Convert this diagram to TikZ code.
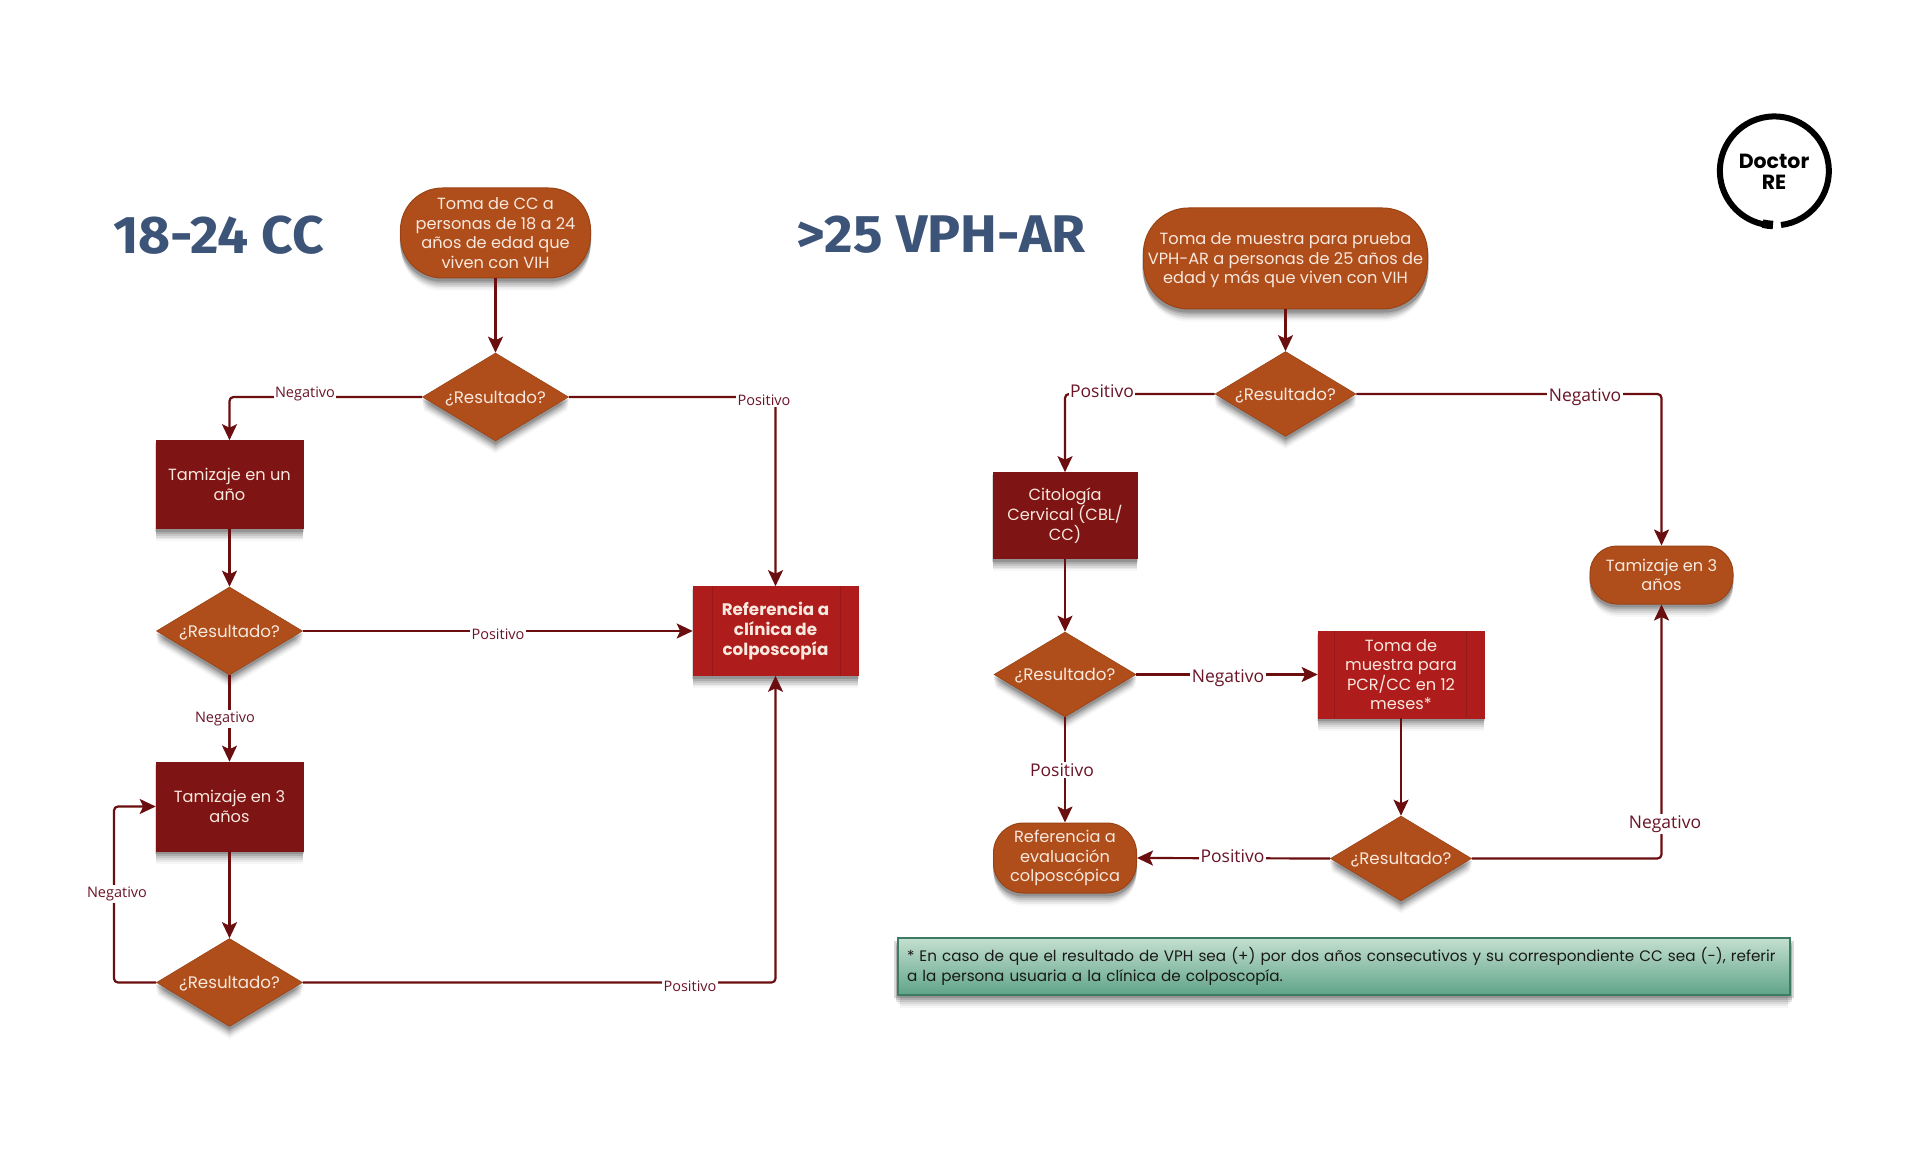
\documentclass[tikz,border=0pt]{standalone}
\usepackage{fontspec}
\setmainfont{Poppins}
\newfontfamily\titlefont[FakeStretch=1.04]{Fira Sans}
\newfontfamily\labelfont{Open Sans}
\usetikzlibrary{shapes.geometric,arrows.meta,shadows}
\definecolor{orng}{HTML}{AF4E1B}
\definecolor{orngedge}{HTML}{9A4316}
\definecolor{dkred}{HTML}{7E1414}
\definecolor{brred}{HTML}{AE1C1C}
\definecolor{procedge}{HTML}{961818}
\definecolor{linec}{HTML}{6A0E10}
\definecolor{lblc}{HTML}{6A1428}
\definecolor{titlec}{HTML}{3C5478}
\definecolor{txtc}{HTML}{F8E8DE}
\definecolor{grntop}{HTML}{C4DFD0}
\definecolor{grnbot}{HTML}{5FA489}
\definecolor{grnedge}{HTML}{3F7A63}
\newcommand\askq{\rule{0pt}{15pt}¿Resultado?}
\tikzset{
  softshadow/.style={
    general shadow={fill=black,opacity=.03,shadow yshift=-13pt,shadow scale=.995},
    general shadow={fill=black,opacity=.05,shadow yshift=-11pt,shadow scale=.995},
    general shadow={fill=black,opacity=.07,shadow yshift=-9pt},
    general shadow={fill=black,opacity=.09,shadow yshift=-7pt,shadow scale=1.005},
    general shadow={fill=black,opacity=.12,shadow yshift=-5pt,shadow scale=1.005},
    general shadow={fill=black,opacity=.15,shadow yshift=-3pt,shadow scale=1.01}},
  bodytext/.style={text=txtc,align=center,inner sep=0pt,font=\fontsize{16.2}{19.6}\selectfont},
  stadium/.style={softshadow,bodytext,rectangle,fill=orng,draw=orngedge,line width=1pt},
  question/.style={softshadow,bodytext,diamond,aspect=1.66,fill=orng,draw=orngedge,line width=.6pt,
    minimum width=146pt,minimum height=88pt,font=\fontsize{16.7}{19.6}\selectfont},
  taskbox/.style={softshadow,bodytext,rectangle,fill=dkred,draw=dkred,line width=.6pt},
  procbox/.style={softshadow,bodytext,rectangle,fill=brred,draw=brred,line width=.6pt},
  procline/.style={draw=procedge,line width=1pt},
  conn/.style={draw=linec,line width=2.2pt,rounded corners=4pt},
  connarrow/.style={conn,-{Stealth[length=16pt,width=15pt,inset=3.5pt]}},
  lbl/.style={fill=white,text=lblc,inner sep=1.5pt,font=\labelfont\fontsize{14.5}{16}\selectfont},
  lblbig/.style={fill=white,text=lblc,inner sep=1.5pt,font=\labelfont\fontsize{17.5}{19}\selectfont},
  bigtitle/.style={text=titlec,inner sep=0pt,font=\titlefont\bfseries\fontsize{53}{60}\selectfont},
  notebox/.style={softshadow,rectangle,top color=grntop,bottom color=grnbot,draw=grnedge,line width=1.2pt,
    minimum width=892pt,minimum height=57pt,text=black!90,inner sep=0pt,align=left,
    font=\fontsize{15.2}{19.8}\selectfont},
}
\begin{document}
\begin{tikzpicture}[x=1pt,y=-1pt]
\useasboundingbox[fill=white] (0,0) rectangle (1920,1166);

% titles
\node[bigtitle] (title1) at (218.5,235) {18-24 CC};
\node[bigtitle] (title2) at (941,235) {>25 VPH-AR};

% logo
\node[inner sep=0pt,align=center,font=\bfseries\fontsize{20.5}{21}\selectfont,text=black] (logo) at (1774,172) {Doctor\\RE};
\draw[line width=6pt,black] (1781,225) arc[start angle=83,end angle=-262,radius=54.5];
\draw[line width=8.5pt,black] (1773,225) arc[start angle=92,end angle=103,radius=54.5];

% left flow
\node[stadium,rounded corners=42pt,minimum width=190pt,minimum height=90pt] (lstart) at (495.5,233)
  {Toma de CC a\\personas de 18 a 24\\años de edad que\\viven con VIH};
\node[question] (ld1) at (495.5,397) {\askq};
\node[taskbox,minimum width=147pt,minimum height=88pt] (lt1) at (229.5,484.5) {Tamizaje en un\\año};
\node[question] (ld2) at (229.5,631) {\askq};
\node[procbox,minimum width=165pt,minimum height=89pt,font=\bfseries\fontsize{16.7}{19.6}\selectfont] (lref) at (775.5,631)
  {Referencia a\\clínica de\\colposcopía};
\node[taskbox,minimum width=147pt,minimum height=89pt] (lt2) at (229.5,806.5) {Tamizaje en 3\\años};
\node[question] (ld3) at (229.5,982.5) {\askq};
\draw[procline] ([xshift=20pt]lref.north west) -- ([xshift=20pt]lref.south west);
\draw[procline] ([xshift=-18pt]lref.north east) -- ([xshift=-18pt]lref.south east);

% right flow
\node[stadium,rounded corners=45pt,minimum width=284pt,minimum height=101pt] (rstart) at (1285.5,258.5)
  {\rule{0pt}{16pt}Toma de muestra para prueba\\VPH-AR a personas de 25 años de\\edad y más que viven con VIH};
\node[question,minimum width=141pt,minimum height=85pt] (rd1) at (1285.5,394) {\askq};
\node[taskbox,minimum width=144pt,minimum height=86pt] (rt1) at (1065,515.5) {Citología\\Cervical (CBL/\\CC)};
\node[question,minimum width=142pt,minimum height=85pt] (rd2) at (1065,674.5) {\askq};
\node[procbox,minimum width=166pt,minimum height=87pt] (rpcr) at (1401,674.5)
  {Toma de\\muestra para\\PCR/CC en 12\\meses*};
\draw[procline] ([xshift=17pt]rpcr.north west) -- ([xshift=17pt]rpcr.south west);
\draw[procline] ([xshift=-18pt]rpcr.north east) -- ([xshift=-18pt]rpcr.south east);
\node[stadium,rounded corners=27pt,minimum width=143pt,minimum height=58pt] (rt3) at (1661.5,575) {Tamizaje en 3\\años};
\node[stadium,rounded corners=30pt,minimum width=143pt,minimum height=70pt] (reval) at (1065,858)
  {Referencia a\\evaluación\\colposcópica};
\node[question,minimum width=141pt,minimum height=85pt] (rd3) at (1401,858.5) {\askq};

% note
\node[notebox,text width=880pt] (note) at (1344,966.5)
  {\hspace*{3pt}* En caso de que el resultado de VPH sea (+) por dos años consecutivos y su correspondiente CC sea (-), referir\\\hspace*{3pt}a la persona usuaria a la clínica de colposcopía.};

% connector bends
\coordinate (lloop) at (114,982.5);

% left connectors
\draw[connarrow] (lstart) -- (ld1);
\draw[connarrow] (ld1.west) -| (lt1.north);
\draw[connarrow] (ld1.east) -| (lref.north);
\draw[connarrow] (lt1) -- (ld2);
\draw[connarrow] (ld2.east) -- (lref.west);
\draw[connarrow] (ld2) -- (lt2);
\draw[connarrow] (lt2) -- (ld3);
\draw[connarrow] (ld3.west) -- (lloop) |- (lt2.west);
\draw[connarrow] (ld3.east) -| (lref.south);

% right connectors
\draw[connarrow] (rstart) -- (rd1);
\draw[connarrow] (rd1.west) -| (rt1.north);
\draw[connarrow] (rd1.east) -| (rt3.north);
\draw[connarrow] (rt1) -- (rd2);
\draw[connarrow] (rd2.east) -- (rpcr.west);
\draw[connarrow] (rd2) -- (reval);
\draw[connarrow] (rpcr) -- (rd3);
\draw[connarrow] (rd3.west) -- (reval.east);
\draw[connarrow] (rd3.east) -| (rt3.south);

% connector labels
\node[lbl] (ln1) at (305,394) {Negativo};
\node[lbl] (lp1) at (764,400) {Positivo};
\node[lbl] (lp2) at (498,634) {Positivo};
\node[lbl] (ln2) at (225,719) {Negativo};
\node[lbl] (ln3) at (117,894) {Negativo};
\node[lbl] (lp3) at (690,986) {Positivo};
\node[lblbig] (rp1) at (1102,391) {Positivo};
\node[lblbig] (rn1) at (1585,397) {Negativo};
\node[lblbig] (rn2) at (1228,678) {Negativo};
\node[lblbig] (rp2) at (1062,770) {Positivo};
\node[lblbig] (rn3) at (1665,824) {Negativo};
\node[lblbig] (rp3) at (1232.5,856) {Positivo};
\end{tikzpicture}
\end{document}
